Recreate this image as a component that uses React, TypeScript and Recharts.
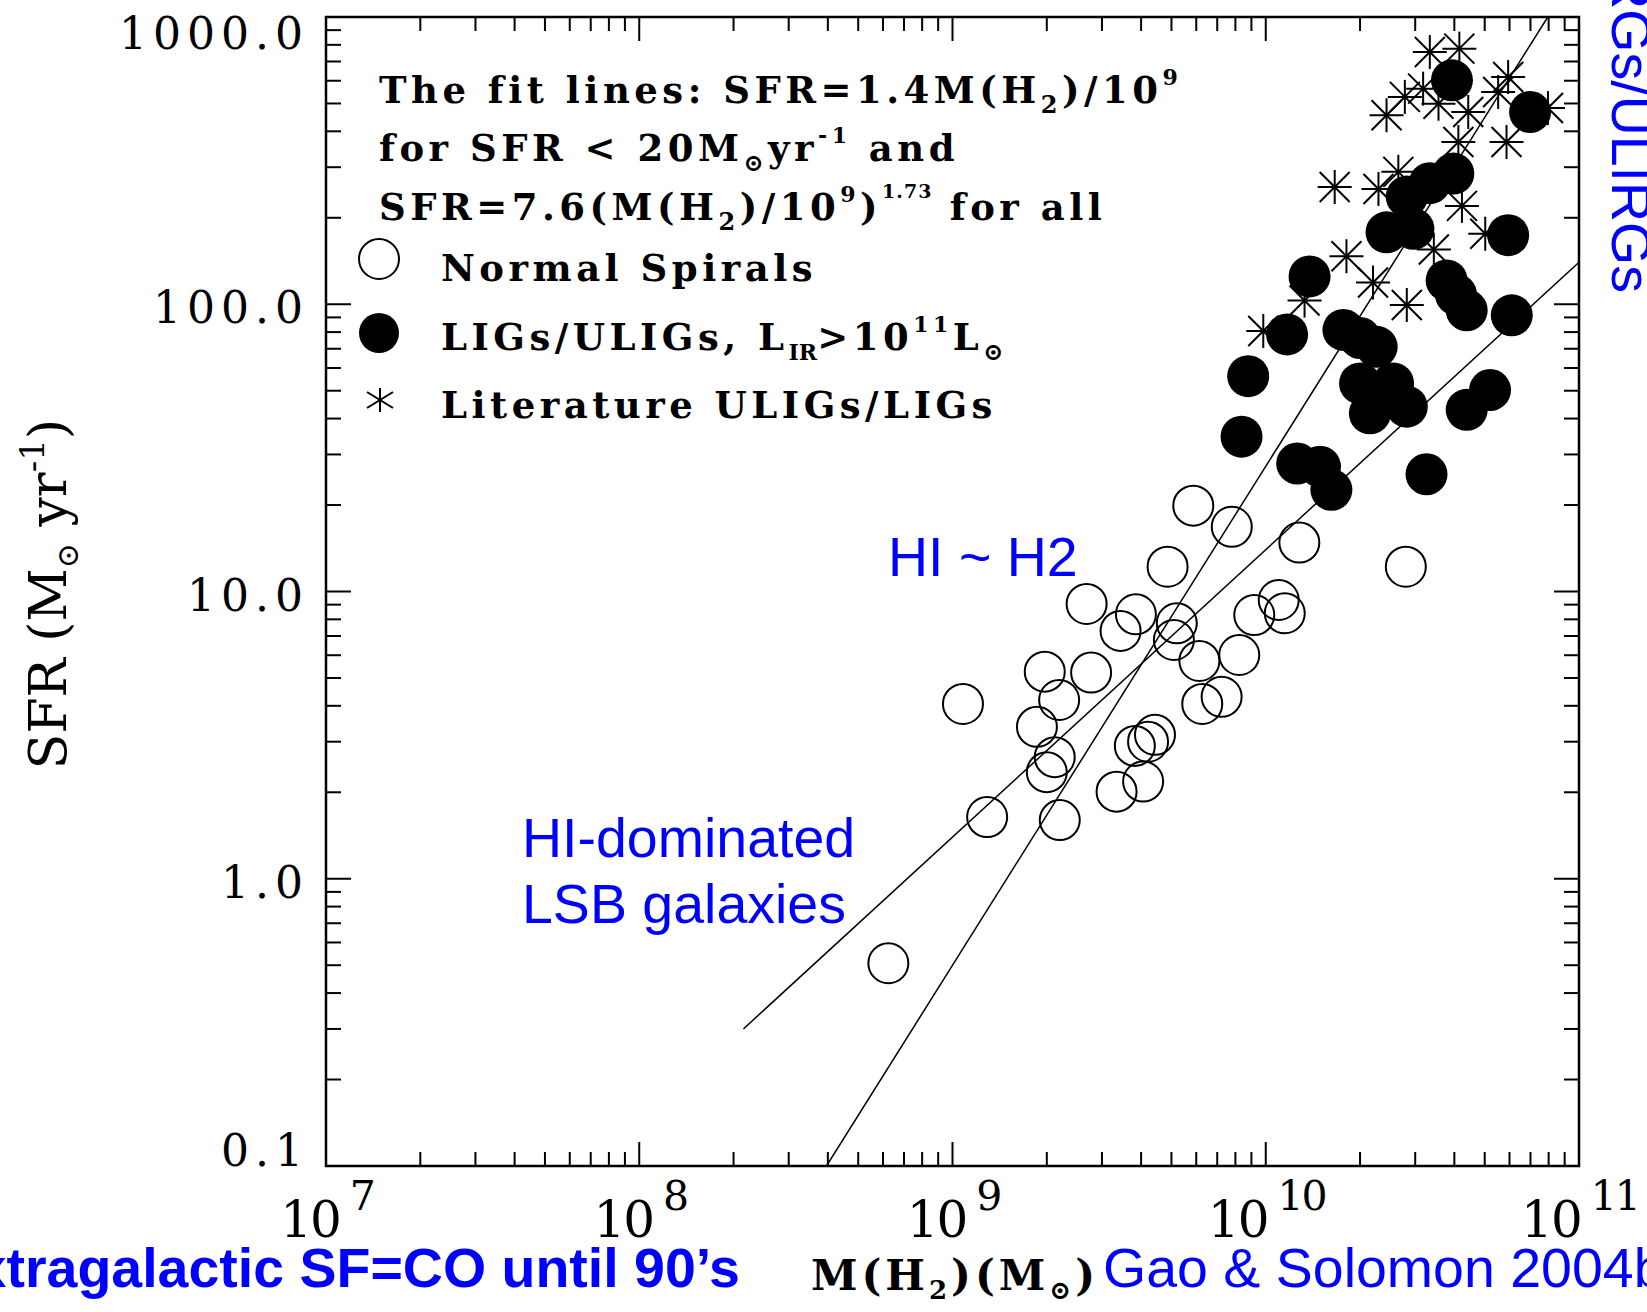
import React from "react"
import { ReferenceArea, Scatter, ScatterChart, XAxis, YAxis } from "recharts"

const W = 1647
const H = 1312
const PLOT = { left: 326, right: 1579, top: 17, bottom: 1166 }

// Normal spirals: M(H2) [Msun] and SFR [Msun/yr]
const spiralMass = [
  5.87e9, 7.79e9, 1.28e10, 2.8e10, 4.86e9, 2.68e9, 3.85e9, 3.44e9, 5.2e9, 5.09e9,
  9.19e9, 1.1e10, 1.15e10, 6.14e9, 8.23e9, 1.97e9, 2.77e9, 2.19e9, 1.08e9, 6.27e9,
  7.23e9, 1.86e9, 2.12e9, 2.0e9, 3.82e9, 4.21e9, 4.43e9, 3.34e9, 4.06e9, 1.29e9,
  2.2e9, 6.24e8,
]
const spiralSfr = [
  19.9, 16.8, 14.8, 12.2, 12.2, 9.05, 8.33, 7.29, 7.75, 6.78,
  8.28, 9.34, 8.4, 5.73, 6.01, 5.26, 5.22, 4.19, 4.06, 4.06,
  4.3, 3.38, 2.65, 2.35, 2.9, 3.0, 3.17, 2.01, 2.18, 1.64,
  1.6, 0.508,
]

// LIGs / ULIGs from this sample
const ligMass = [
  3.93e10, 6.98e10, 3.97e10, 2.82e10, 3.34e10, 2.43e10, 2.96e10, 5.94e10, 1.38e10, 3.78e10,
  4.05e10, 4.38e10, 6.1e10, 1.17e10, 1.77e10, 2.0e10, 2.26e10, 8.79e9, 2.0e10, 2.55e10,
  2.15e10, 2.82e10, 8.37e9, 4.38e10, 5.2e10, 1.26e10, 1.49e10, 1.62e10, 3.26e10,
]
const ligSfr = [
  602, 467, 285, 237, 264, 178, 183, 174, 125, 121,
  108, 95.3, 91.5, 78.5, 81.4, 76.3, 71.1, 56.2, 53, 53,
  41.7, 44, 34.6, 42.9, 50.3, 27.9, 27.2, 22.6, 25.6,
]

// Literature ULIGs / LIGs
const litMass = [
  3.34e10, 4.15e10, 5.94e10, 2.43e10, 2.78e10, 3.18e10, 3.56e10, 4.43e10, 5.52e10, 5.87e10,
  4.12e10, 1.66e10, 2.29e10, 2.65e10, 4.23e10, 1.81e10, 2.2e10, 2.82e10, 1.33e10, 3.44e10,
  9.82e9, 5.02e10, 7.96e10,
]
const litSfr = [
  755, 776, 618, 455, 527, 563, 499, 467, 548, 367,
  367, 256, 252, 289, 220, 147, 119, 99.4, 103, 155,
  80.7, 176, 482,
]

// fit line end points
const steepFitMass = [3.96e8, 7.95e10]
const steepFitSfr = [0.1, 1000]
const linearFitMass = [2.15e8, 1e11]
const linearFitSfr = [0.3, 140]

const xMajor = [1e7, 1e8, 1e9, 1e10, 1e11]
const xExponents = ["7", "8", "9", "10", "11"]
const yMajor = [0.1, 1, 10, 100, 1000]
const yLabels = ["0.1", "1.0", "10.0", "100.0", "1000.0"]
const minorSteps = [2, 3, 4, 5, 6, 7, 8, 9]

const logTicks = (majors: number[]) =>
  majors.flatMap((d, i) =>
    i < majors.length - 1 ? [d, ...minorSteps.map((k) => k * d)] : [d]
  )
const xTicks = logTicks(xMajor)
const yTicks = logTicks(yMajor)

const pairs = (xs: number[], ys: number[]) => xs.map((m, i) => ({ m, sfr: ys[i] }))
const spirals = pairs(spiralMass, spiralSfr)
const ligs = pairs(ligMass, ligSfr)
const literature = pairs(litMass, litSfr)
const steepFit = pairs(steepFitMass, steepFitSfr)
const linearFit = pairs(linearFitMass, linearFitSfr)

const serif = "'DejaVu Serif', serif"
const sans = "'Liberation Sans', Arial, sans-serif"
const blue = "#0000FF"

function MassTick(props: any) {
  const { x, payload } = props
  const i = xMajor.indexOf(payload.value)
  const len = i >= 0 ? 24 : 14
  return (
    <g>
      <line x1={x} x2={x} y1={PLOT.bottom} y2={PLOT.bottom - len} stroke="#000" strokeWidth={2} />
      <line x1={x} x2={x} y1={PLOT.top} y2={PLOT.top + len} stroke="#000" strokeWidth={2} />
      {i >= 0 && (
        <text x={x + 1} y={1237} textAnchor="middle" fontFamily={serif} fontSize={50} letterSpacing={-2} fill="#000">
          10
          <tspan dx={10} dy={-27} fontSize={41}>{xExponents[i]}</tspan>
        </text>
      )}
    </g>
  )
}

function SfrTick(props: any) {
  const { y, payload } = props
  const i = yMajor.indexOf(payload.value)
  const len = i >= 0 ? 25 : 15
  const cy = Math.min(Math.max(y + 3, PLOT.top + 16), PLOT.bottom - 16)
  return (
    <g>
      <line x1={PLOT.left} x2={PLOT.left + len} y1={y} y2={y} stroke="#000" strokeWidth={2} />
      <line x1={PLOT.right} x2={PLOT.right - len} y1={y} y2={y} stroke="#000" strokeWidth={2} />
      {i >= 0 && (
        <text x={PLOT.left - 17} y={cy + 16} textAnchor="end" fontFamily={serif} fontSize={44} letterSpacing={6} fill="#000">
          {yLabels[i]}
        </text>
      )}
    </g>
  )
}

const OpenRing = (p: any) => (
  <circle cx={p.cx} cy={p.cy} r={20} fill="none" stroke="#000" strokeWidth={2} />
)
const FilledDot = (p: any) => <circle cx={p.cx} cy={p.cy} r={21} fill="#000" />
const Asterisk = (p: any) => {
  const { cx, cy } = p
  const a = 17
  const d = 15
  return (
    <g stroke="#000" strokeWidth={2}>
      <line x1={cx - a} x2={cx + a} y1={cy} y2={cy} />
      <line x1={cx} x2={cx} y1={cy - a} y2={cy + a} />
      <line x1={cx - d} x2={cx + d} y1={cy - d} y2={cy + d} />
      <line x1={cx - d} x2={cx + d} y1={cy + d} y2={cy - d} />
    </g>
  )
}
const NoMarker = () => <g />

export default function App() {
  return (
    <div style={{ position: "absolute", left: 0, top: 0, width: W, height: H, background: "#fff", overflow: "hidden" }}>
      <ScatterChart width={W} height={H} margin={{ top: PLOT.top, right: W - PLOT.right, bottom: 0, left: 0 }}>
        <XAxis
          dataKey="m"
          type="number"
          scale="log"
          domain={[1e7, 1e11]}
          allowDataOverflow
          ticks={xTicks}
          interval={0}
          tick={MassTick}
          tickLine={false}
          axisLine={false}
          height={H - PLOT.bottom}
        />
        <YAxis
          dataKey="sfr"
          type="number"
          scale="log"
          domain={[0.1, 1000]}
          allowDataOverflow
          ticks={yTicks}
          interval={0}
          tick={SfrTick}
          tickLine={false}
          axisLine={false}
          width={PLOT.left}
        />
        <Scatter data={linearFit} line={{ stroke: "#000", strokeWidth: 1.5 }} shape={NoMarker} isAnimationActive={false} />
        <Scatter data={steepFit} line={{ stroke: "#000", strokeWidth: 1.5 }} shape={NoMarker} isAnimationActive={false} />
        <Scatter data={spirals} shape={OpenRing} isAnimationActive={false} />
        <Scatter data={literature} shape={Asterisk} isAnimationActive={false} />
        <Scatter data={ligs} shape={FilledDot} isAnimationActive={false} />
        <ReferenceArea x1={1e7} x2={1e11} y1={0.1} y2={1000} fill="none" stroke="#000" strokeWidth={2.5} />
      </ScatterChart>

      <svg width={W} height={H} style={{ position: "absolute", left: 0, top: 0, pointerEvents: "none" }}>
        {/* legend block */}
        <g fontFamily={serif} fontSize={37} fontWeight="bold" letterSpacing={4.5} fill="#000">
          <text x={379} y={103}>
            <tspan>{"The fit lines: SFR=1.4M(H"}</tspan>
            <tspan dy={10} fontSize={24}>2</tspan>
            <tspan dy={-10}>{")/10"}</tspan>
            <tspan dy={-18} fontSize={22}>9</tspan>
          </text>
          <text x={379} y={161}>
            <tspan>{"for SFR  <  20M"}</tspan>
            <tspan dy={10} fontSize={24}>⊙</tspan>
            <tspan dy={-10}>yr</tspan>
            <tspan dy={-18} fontSize={22}>-1</tspan>
            <tspan dy={18}>{" and"}</tspan>
          </text>
          <text x={379} y={220}>
            <tspan>{"SFR=7.6(M(H"}</tspan>
            <tspan dy={10} fontSize={24}>2</tspan>
            <tspan dy={-10}>{")/10"}</tspan>
            <tspan dy={-18} fontSize={22}>9</tspan>
            <tspan dy={18}>)</tspan>
            <tspan dy={-22} fontSize={19} letterSpacing={1}>1.73</tspan>
            <tspan dy={22}>{" for all"}</tspan>
          </text>
          <text x={441} y={281}>Normal Spirals</text>
          <text x={441} y={350}>
            <tspan>{"LIGs/ULIGs, L"}</tspan>
            <tspan dy={10} fontSize={22} letterSpacing={0}>IR</tspan>
            <tspan dy={-10}>{">10"}</tspan>
            <tspan dy={-18} fontSize={22}>11</tspan>
            <tspan dy={18}>L</tspan>
            <tspan dy={10} fontSize={24}>⊙</tspan>
          </text>
          <text x={441} y={418}>Literature ULIGs/LIGs</text>
        </g>
        <circle cx={379} cy={259} r={20} fill="none" stroke="#000" strokeWidth={2} />
        <circle cx={379} cy={333} r={20} fill="#000" />
        <g stroke="#000" strokeWidth={2}>
          <line x1={380} x2={380} y1={388} y2={412} />
          <line x1={367} x2={393} y1={392} y2={408} />
          <line x1={367} x2={393} y1={408} y2={392} />
        </g>

        {/* axis titles */}
        <text transform="translate(66, 594) rotate(-90)" textAnchor="middle" fontFamily={serif} fontSize={52} fill="#000">
          <tspan>{"SFR (M"}</tspan>
          <tspan dy={12} fontSize={30}>⊙</tspan>
          <tspan dy={-12}>{" yr"}</tspan>
          <tspan dy={-22} fontSize={34}>-1</tspan>
          <tspan dy={22}>)</tspan>
        </text>
        <text x={955} y={1290} textAnchor="middle" fontFamily={serif} fontSize={42} fontWeight="bold" letterSpacing={4} fill="#000">
          <tspan>{"M(H"}</tspan>
          <tspan dy={9} fontSize={26}>2</tspan>
          <tspan dy={-9}>{")(M"}</tspan>
          <tspan dy={9} fontSize={26}>⊙</tspan>
          <tspan dy={-9}>)</tspan>
        </text>

        {/* annotations */}
        <g fontFamily={sans} fill={blue}>
          <text x={888} y={576} fontSize={55.5}>HI ~ H2</text>
          <text x={522} y={857} fontSize={55.5}>HI-dominated</text>
          <text x={522} y={923} fontSize={55.5}>LSB galaxies</text>
          <text x={740} y={1287} textAnchor="end" fontSize={55.5} fontWeight="bold">Extragalactic SF=CO until 90’s</text>
          <text x={1103} y={1287} fontSize={55.5}>Gao &amp; Solomon 2004b</text>
          <text transform="translate(1612, 293) rotate(90)" textAnchor="end" fontSize={55.5}>LIRGs/ULIRGs</text>
        </g>
      </svg>
    </div>
  )
}
